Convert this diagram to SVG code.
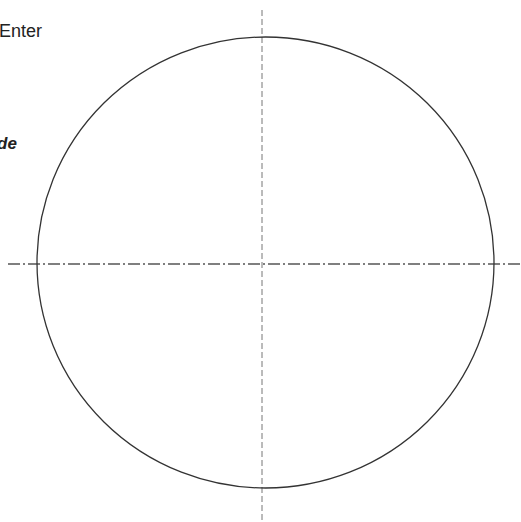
<svg xmlns="http://www.w3.org/2000/svg" width="521" height="522" viewBox="0 0 521 522">
<style>
.lbl{font-family:"Liberation Sans",Arial,sans-serif;fill:#222}
.axis-h{stroke:#555;stroke-width:1.3;stroke-dasharray:12 3 2 3;fill:none}
.axis-v{stroke:#777;stroke-width:1;stroke-dasharray:6 3;fill:none}
.circ{stroke:#333;stroke-width:1.3;fill:none}
</style>
<rect width="521" height="522" fill="#fff"/>
<g id="connectors">
<line class="axis-h" x1="8" y1="264" x2="521" y2="264"/>
<line class="axis-v" x1="262" y1="10" x2="262" y2="522"/>
</g>
<g id="circle">
<ellipse class="circ" cx="265.5" cy="262.5" rx="228.5" ry="225.5"/>
</g>
<g id="labels">
<text class="lbl" x="-1" y="37" font-size="18">Enter</text>
<text class="lbl" x="-3" y="149" font-size="17" font-weight="bold" font-style="italic">de</text>
</g>
</svg>
